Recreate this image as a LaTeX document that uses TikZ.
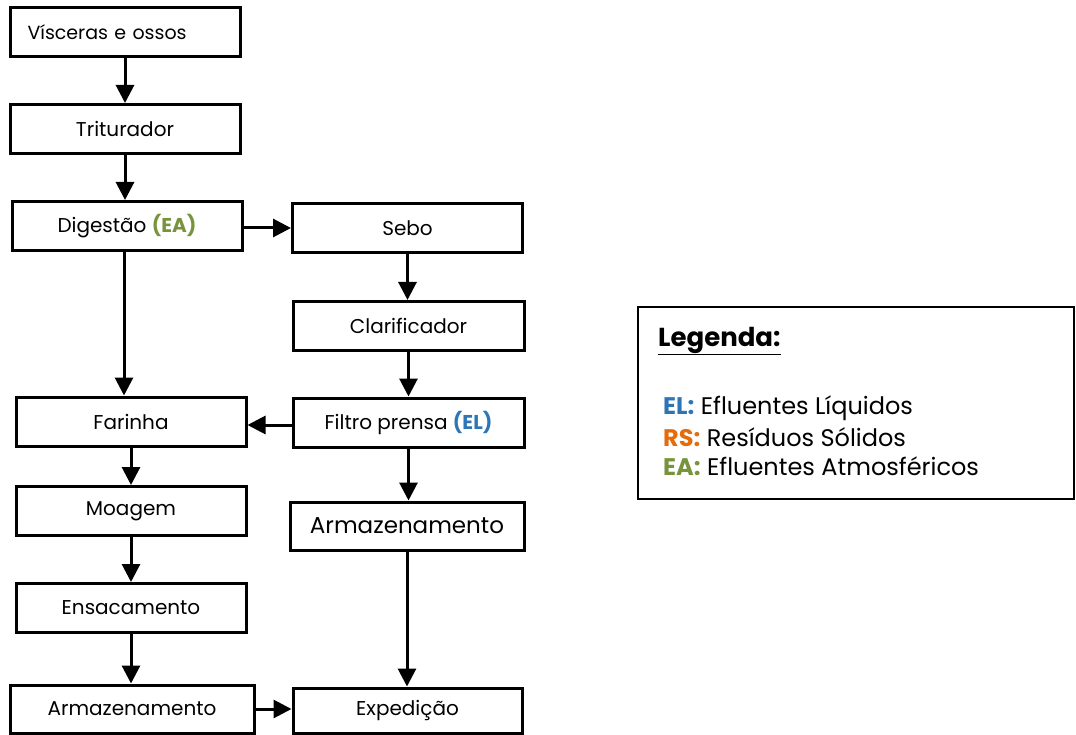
\documentclass[tikz,border=0pt]{standalone}
\usepackage{fontspec}
\setmainfont{Poppins}
\usepackage{xcolor}
\usetikzlibrary{arrows.meta}
\definecolor{elblue}{HTML}{2E75B6}
\definecolor{rsorange}{HTML}{E46C0A}
\definecolor{eagreen}{HTML}{77933C}
\newcommand{\EL}[1]{\textcolor{elblue}{\bfseries #1}}
\newcommand{\RS}[1]{\textcolor{rsorange}{\bfseries #1}}
\newcommand{\EA}[1]{\textcolor{eagreen}{\bfseries #1}}

\begin{document}
\begin{tikzpicture}[x=1pt,y=-1pt,
	box/.style={draw,line width=3pt,minimum width=230pt,minimum height=49pt,inner sep=0pt,font=\fontsize{20}{24}\selectfont},
	bigbox/.style={box,font=\fontsize{23}{27}\selectfont},
	legtext/.style={anchor=west,inner sep=0pt,font=\fontsize{24}{28}\selectfont},
	arr/.style={line width=3pt,-{Triangle[length=18pt,width=18pt]}}]
	\useasboundingbox (0,0) rectangle (1076,735);
	% linha da farinha
	\node (visc) at (125,32.5)[box,text width=195pt,inner xsep=0pt,align=left,font=\fontsize{19}{23}\selectfont]{V\'{\i}sceras e ossos};
	\node (trit) at (125,129)[box]{Triturador};
	\node (dig) at (127,226)[box]{Digest\~{a}o \EA{(EA)}};
	\node (far) at (131,421.5)[box]{Farinha};
	\node (moag) at (131,511)[box]{Moagem};
	\node (ensac) at (131,608)[box]{Ensacamento};
	\node (armL) at (132,709)[box,minimum width=244pt,minimum height=48pt]{Armazenamento};
	% linha do sebo
	\node (sebo) at (407.5,228.5)[box]{Sebo};
	\node (clar) at (408.5,326)[box,minimum width=231pt]{Clarificador};
	\node (filt) at (408.5,422.5)[box,minimum width=231pt]{Filtro prensa \EL{(EL)}};
	\node (armR) at (407,526)[bigbox,minimum width=234pt,minimum height=48pt]{Armazenamento};
	\node (exped) at (407.5,710.5)[box,minimum width=229pt,minimum height=45pt]{Expedi\c{c}\~{a}o};
	% setas
	\draw[arr] (visc) -- (visc |- trit.north);
	\draw[arr] (trit) -- (trit |- dig.north);
	\draw[arr] ([xshift=-3pt]dig.south) -- ([xshift=-3pt]dig.south |- far.north);
	\draw[arr] (far) -- (far |- moag.north);
	\draw[arr] (moag) -- (moag |- ensac.north);
	\draw[arr] (ensac) -- (ensac |- armL.north);
	\draw[arr] (dig.east |- 0,228) -- (sebo.west |- 0,228);
	\draw[arr] (sebo) -- (sebo |- clar.north);
	\draw[arr] (clar) -- (clar |- filt.north);
	\draw[arr] (filt.west |- 0,425) -- (far.east |- 0,425);
	\draw[arr] (filt) -- (filt |- armR.north);
	\draw[arr] (armR) -- (armR |- exped.north);
	\draw[arr] (armL.east |- 0,709) -- (exped.west |- 0,709);
	% legenda
	\node (leg) at (856,403)[draw,line width=2.2pt,minimum width=436pt,minimum height=192pt]{};
	\node (legT) at (658,341)[legtext,font=\fontsize{26}{30}\selectfont\bfseries]{\underline{Legenda:}};
	\node (legEL) at (663,408)[legtext]{\EL{EL:} Efluentes L\'{\i}quidos};
	\node (legRS) at (663,437)[legtext]{\RS{RS:} Res\'{\i}duos S\'{o}lidos};
	\node (legEA) at (663,466)[legtext]{\EA{EA:} Efluentes Atmosf\'{e}ricos};
\end{tikzpicture}
\end{document}
